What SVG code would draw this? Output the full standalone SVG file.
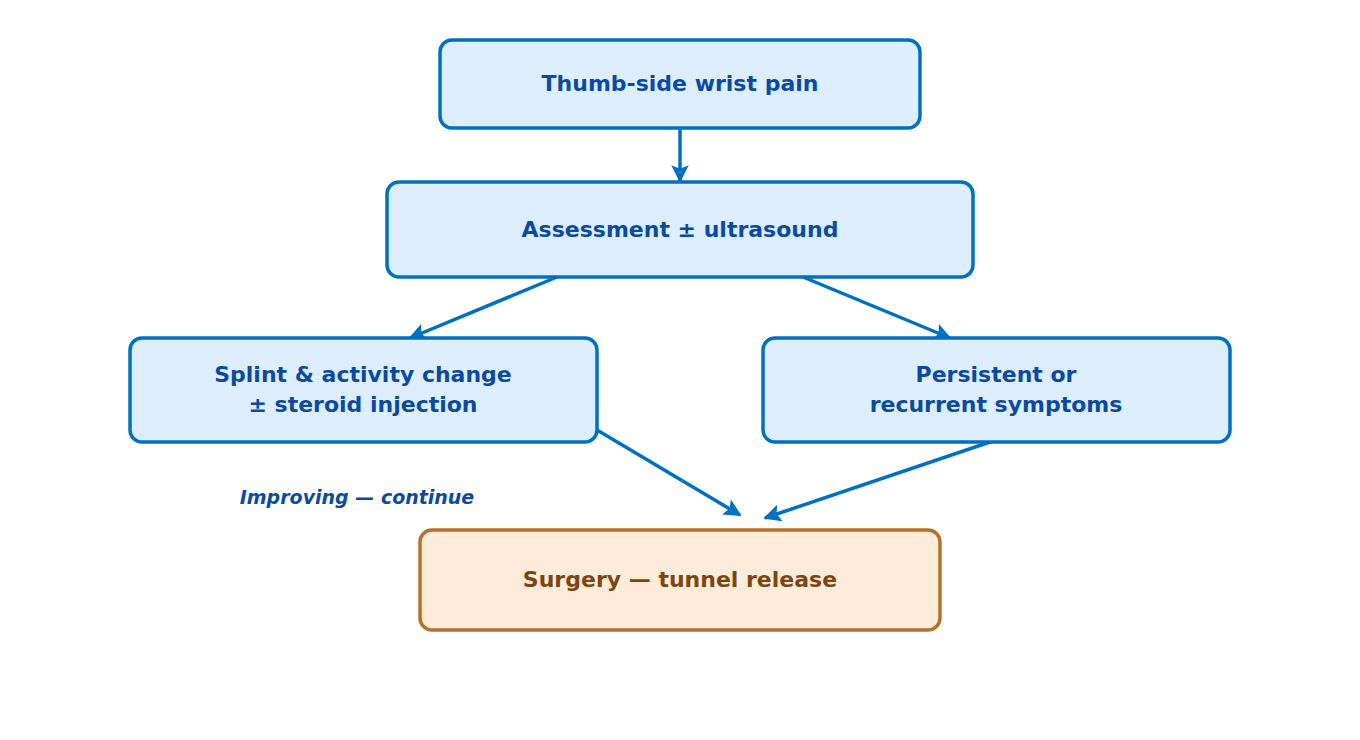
<svg xmlns="http://www.w3.org/2000/svg" width="1360" height="740" viewBox="0 0 1360 740">
<style>
.b rect{fill:#ddeeff;stroke:#0070c0;stroke-width:3.5}
.b text{fill:#0b4aa0}
text{font-family:"DejaVu Sans",sans-serif;font-weight:bold;font-size:22px;text-anchor:middle}
.o rect{fill:#fdecd9;stroke:#b5722c;stroke-width:3.5}
.o text{fill:#7a4712}
#edges line{stroke:#0070c0;stroke-width:3.5;marker-end:url(#ah)}
</style>
<defs><marker id="ah" viewBox="0 0 10 10" refX="9" refY="5" markerWidth="5" markerHeight="5" orient="auto" markerUnits="strokeWidth"><path d="M0,0 L10,5 L0,10 L2,5 z" fill="#0070c0"/></marker></defs>
<rect width="1360" height="740" fill="#fff"/>
<g id="edges">
<line x1="680" y1="128" x2="680" y2="181"/>
<line x1="557" y1="277" x2="410" y2="338"/>
<line x1="803" y1="277" x2="950" y2="338"/>
<line x1="597" y1="430" x2="740" y2="515"/>
<line x1="993" y1="441" x2="765" y2="518"/>
</g>
<g id="n1" class="b"><rect x="440" y="40" width="480" height="88" rx="12"/><text x="680" y="91">Thumb-side wrist pain</text></g>
<g id="n2" class="b"><rect x="387" y="182" width="586" height="95" rx="12"/><text x="680" y="237">Assessment ± ultrasound</text></g>
<g id="n3" class="b"><rect x="130" y="338" width="467" height="104" rx="12"/><text x="363" y="382">Splint &amp; activity change</text><text x="363" y="412">± steroid injection</text></g>
<g id="n4" class="b"><rect x="763" y="338" width="467" height="104" rx="12"/><text x="996" y="382">Persistent or</text><text x="996" y="412">recurrent symptoms</text></g>
<g id="n5" class="o"><rect x="420" y="530" width="520" height="100" rx="12"/><text x="680" y="587">Surgery — tunnel release</text></g>
<text x="357" y="504" style="font-size:19px;font-style:italic;fill:#0b4aa0">Improving — continue</text>
</svg>
